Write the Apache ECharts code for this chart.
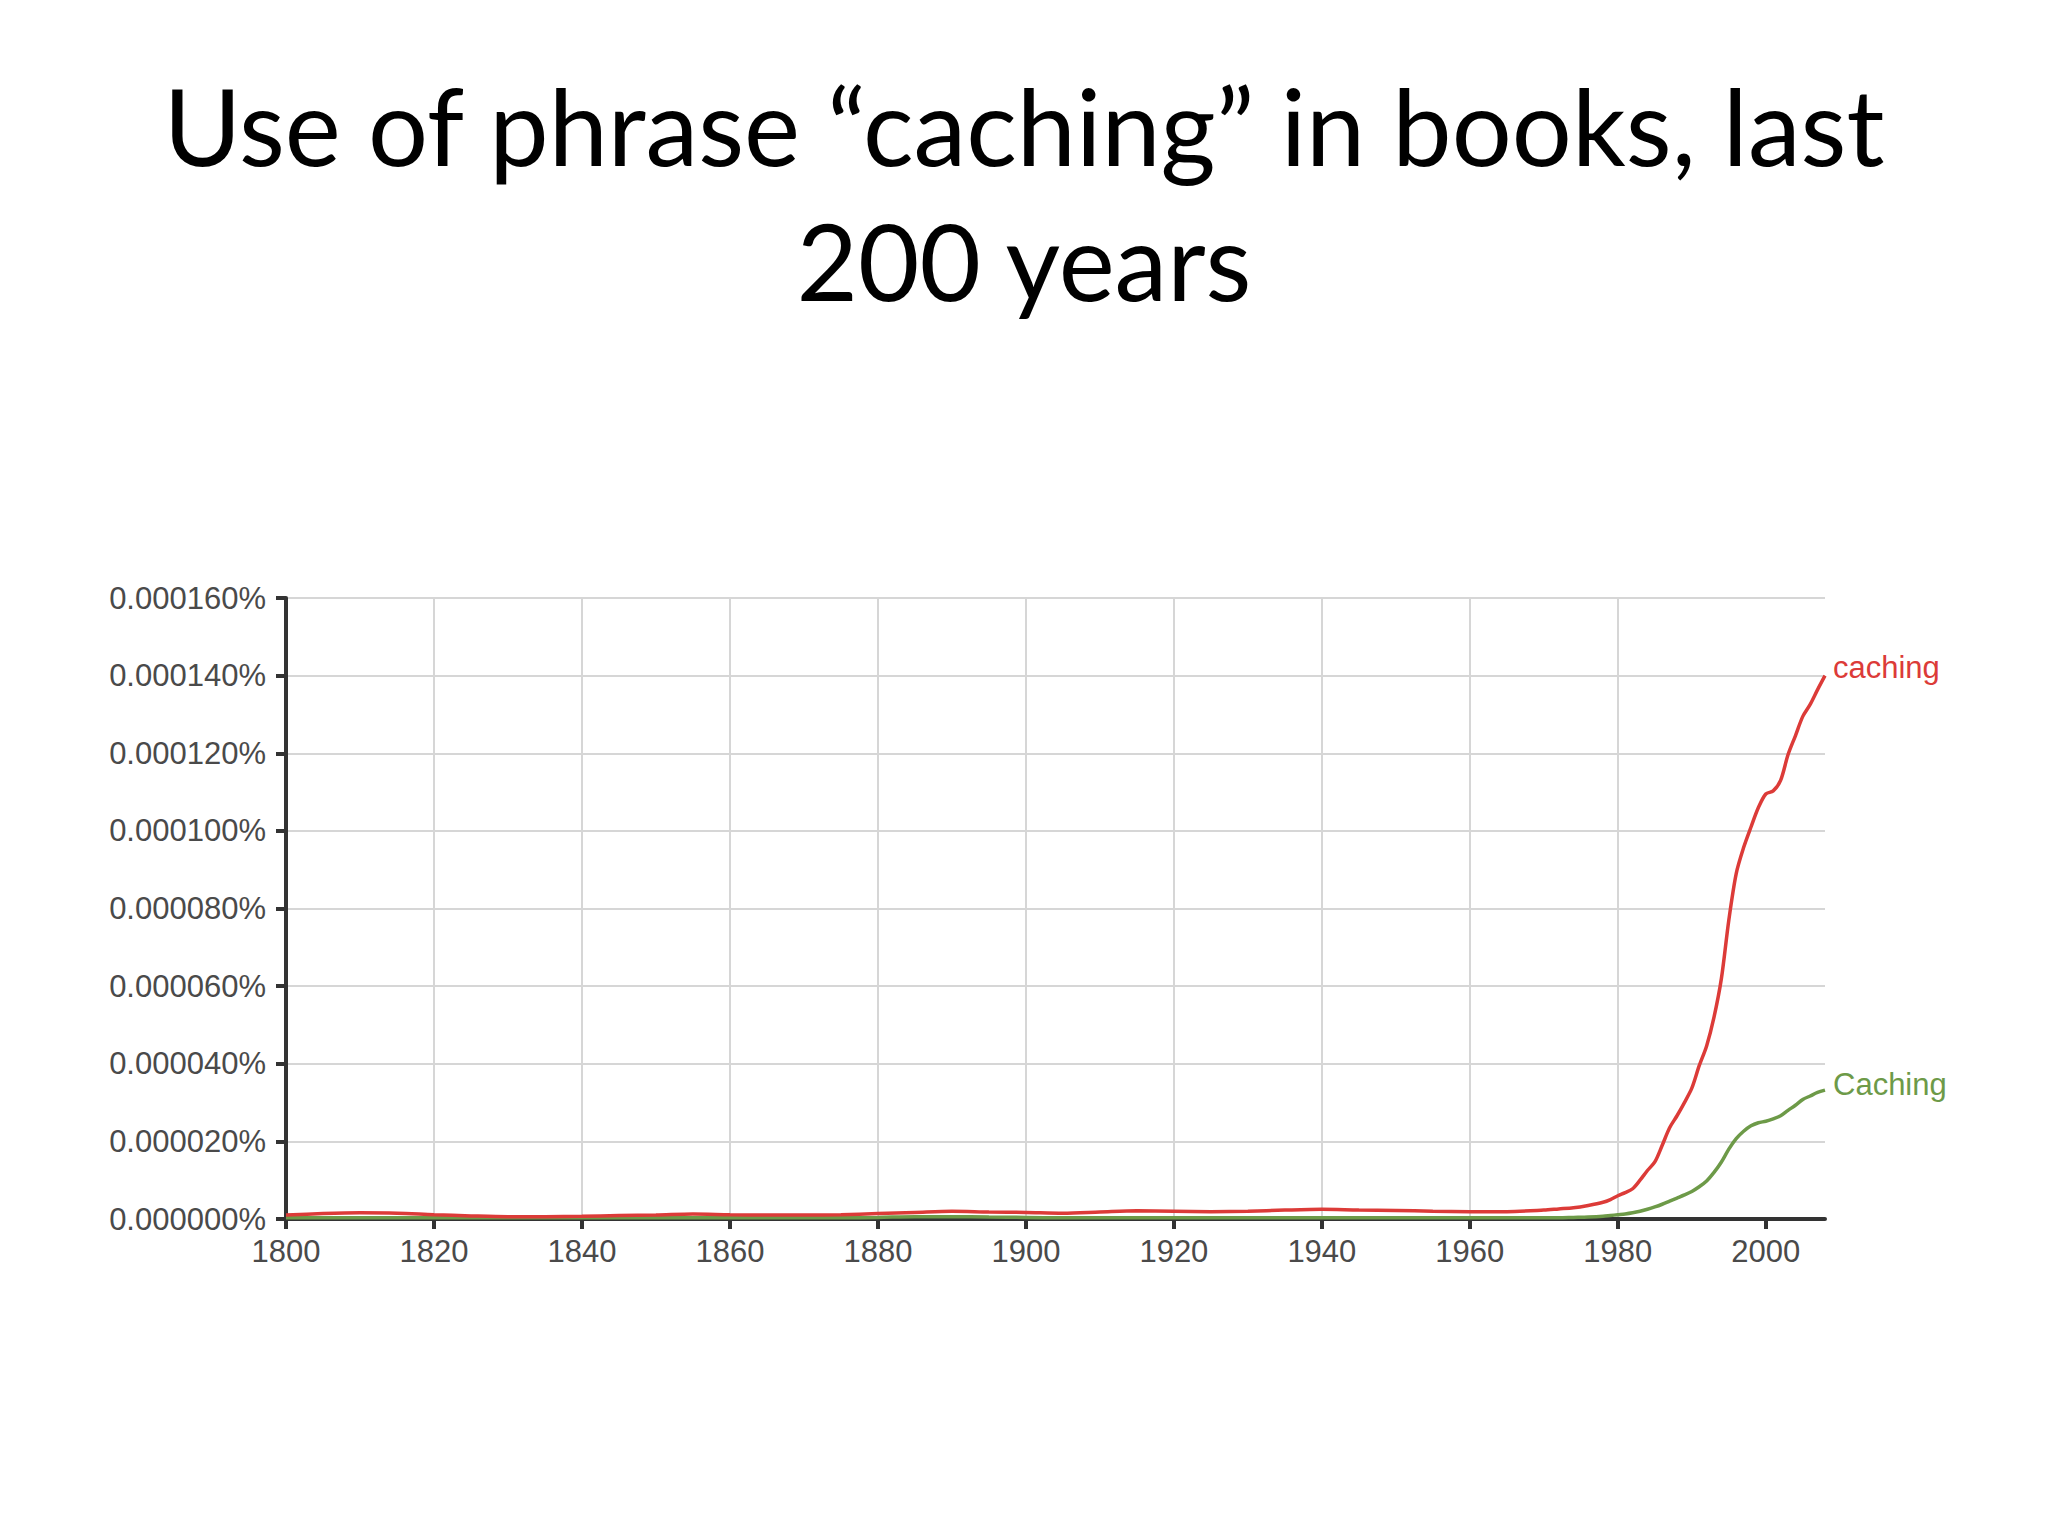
<!DOCTYPE html>
<html>
<head>
<meta charset="utf-8">
<title>Use of phrase “caching” in books</title>
<script src="https://cdn.jsdelivr.net/npm/echarts@6/dist/echarts.min.js"></script>
<style>
  html, body { margin: 0; padding: 0; background: #ffffff; }
  #chart { width: 2048px; height: 1536px; }
</style>
</head>
<body>
<div id="chart"></div>
<script>
// values are in millionths of a percent (1 = 0.000001%)
const YEARS = [
  1800, 1805, 1810, 1815, 1820, 1825, 1830, 1835, 1840, 1845,
  1850, 1855, 1860, 1865, 1870, 1875, 1880, 1885, 1890, 1895,
  1900, 1905, 1910, 1915, 1920, 1925, 1930, 1935, 1940, 1945,
  1950, 1955, 1960, 1965, 1970, 1972, 1974, 1976, 1978, 1979,
  1980, 1981, 1982, 1983, 1984, 1985, 1986, 1987, 1988, 1989,
  1990, 1991, 1992, 1993, 1994, 1995, 1996, 1997, 1998, 1999,
  2000, 2001, 2002, 2003, 2004, 2005, 2006, 2007, 2008,
];
const CACHING_LOWER = [
  1.0, 1.4, 1.6, 1.5, 1.1, 0.8, 0.6, 0.6, 0.7, 0.9,
  1.0, 1.3, 1.1, 1.0, 1.0, 1.1, 1.4, 1.7, 2.0, 1.8,
  1.7, 1.5, 1.8, 2.1, 2.0, 1.9, 2.0, 2.3, 2.5, 2.3,
  2.2, 2.0, 1.9, 1.9, 2.3, 2.6, 2.9, 3.5, 4.3, 5.0,
  6.0, 6.8, 7.8, 10.0, 12.5, 14.7, 19.0, 23.5, 26.6, 30.0,
  33.7, 39.5, 44.6, 52.0, 62.0, 77.0, 89.0, 95.7, 101.0, 106.0,
  109.5, 110.3, 113.0, 119.6, 124.5, 129.5, 132.6, 136.4, 140.0,
];
const CACHING_UPPER = [
  0.3, 0.3, 0.3, 0.3, 0.3, 0.3, 0.3, 0.3, 0.3, 0.3,
  0.3, 0.3, 0.3, 0.3, 0.3, 0.3, 0.4, 0.6, 0.6, 0.5,
  0.4, 0.3, 0.3, 0.3, 0.3, 0.3, 0.3, 0.3, 0.3, 0.3,
  0.3, 0.3, 0.3, 0.3, 0.3, 0.3, 0.4, 0.5, 0.7, 0.9,
  1.1, 1.3, 1.6, 2.0, 2.5, 3.1, 3.8, 4.6, 5.4, 6.2,
  7.1, 8.3, 9.8, 12.0, 14.7, 18.0, 20.7, 22.6, 24.0, 24.8,
  25.2, 25.8, 26.6, 28.0, 29.3, 30.8, 31.7, 32.6, 33.2,
];
const X_TICKS = [1800, 1820, 1840, 1860, 1880, 1900, 1920, 1940, 1960, 1980, 2000];
const Y_MAX = 160;
const Y_STEP = 20;

const RED = "#dc3b38";
const GREEN = "#6d9a48";
const LABEL_FONT = "'Liberation Sans', Arial, sans-serif";

function formatPercent(value) {
  return `${(value / 1e6).toFixed(6)}%`;
}

const chart = echarts.init(document.getElementById("chart"), undefined, { renderer: "svg" });

chart.setOption({
  animation: false,
  backgroundColor: "#ffffff",
  title: {
    text: "Use of phrase “caching” in books, last\n200 years",
    left: "center",
    top: 52,
    textStyle: {
      fontFamily: "Lato, 'Open Sans', sans-serif",
      fontWeight: "normal",
      fontSize: 106,
      lineHeight: 135,
      color: "#000000",
    },
  },
  grid: { left: 286, right: 223, top: 598, bottom: 317 },
  xAxis: {
    type: "value",
    min: 1800,
    max: 2008,
    interval: 20,
    axisLine: { lineStyle: { color: "#333333", width: 4 } },
    axisTick: {
      customValues: X_TICKS,
      length: 10,
      lineStyle: { color: "#333333", width: 4 },
    },
    axisLabel: {
      customValues: X_TICKS,
      formatter: (value) => String(value),
      color: "#4a4a4a",
      fontFamily: LABEL_FONT,
      fontSize: 31,
      margin: 17,
    },
    splitLine: {
      show: true,
      showMaxLine: false,
      lineStyle: { color: "#d6d6d6", width: 2 },
    },
  },
  yAxis: {
    type: "value",
    min: 0,
    max: Y_MAX,
    interval: Y_STEP,
    axisLine: { show: true, lineStyle: { color: "#333333", width: 4 } },
    axisTick: { show: true, length: 10, lineStyle: { color: "#333333", width: 4 } },
    axisLabel: {
      formatter: formatPercent,
      color: "#4a4a4a",
      fontFamily: LABEL_FONT,
      fontSize: 31,
      margin: 20,
    },
    splitLine: { lineStyle: { color: "#d6d6d6", width: 2 } },
  },
  series: [
    {
      name: "Caching",
      type: "line",
      data: YEARS.map((year, i) => [year, CACHING_UPPER[i]]),
      smooth: 0.3,
      showSymbol: false,
      lineStyle: { color: GREEN, width: 3.5 },
      itemStyle: { color: GREEN },
      endLabel: {
        show: true,
        formatter: "{a}",
        color: GREEN,
        fontFamily: LABEL_FONT,
        fontSize: 31,
        distance: 8,
        offset: [0, -6],
      },
      z: 2,
    },
    {
      name: "caching",
      type: "line",
      data: YEARS.map((year, i) => [year, CACHING_LOWER[i]]),
      smooth: 0.3,
      showSymbol: false,
      lineStyle: { color: RED, width: 3.5 },
      itemStyle: { color: RED },
      endLabel: {
        show: true,
        formatter: "{a}",
        color: RED,
        fontFamily: LABEL_FONT,
        fontSize: 31,
        distance: 8,
        offset: [0, -8],
      },
      z: 3,
    },
  ],
});
</script>
</body>
</html>
